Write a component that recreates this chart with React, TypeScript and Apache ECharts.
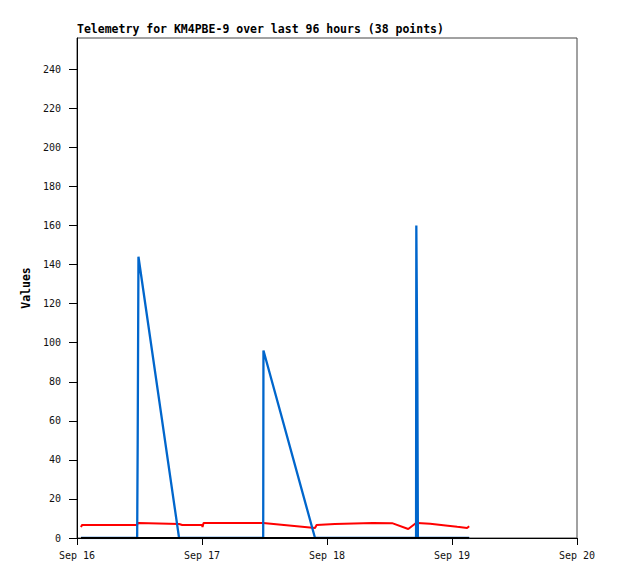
import React, { useEffect, useRef } from "react";
import * as echarts from "echarts";

// Time of each sample, hours since Sep 16 00:00
const hours = [
  0.77, 0.96, 11.55, 11.65, 11.8, 19.6, 20.2, 24.0, 24.1, 24.3, 35.75, 35.8, 45.7, 46.0,
  49.5, 56.8, 60.5, 63.6, 65.1, 65.15, 65.35, 65.45, 67.8, 71.2, 73.0, 74.9, 75.3,
];
const redValues = [
  5.6, 6.65, 6.65, 7.7, 7.7, 7.2, 6.65, 6.65, 5.6, 7.7, 7.7, 7.7, 5.1, 6.65,
  7.2, 7.7, 7.6, 4.6, 7.7, 7.7, 7.7, 7.7, 7.3, 6.3, 5.7, 5.1, 6.0,
];
const blueValues = [
  0, 0, 0, 48, 144, 0, 0, 0, 0, 0, 0, 96, 0, 0,
  0, 0, 0, 0, 0, 160, 80, 0, 0, 0, 0, 0, 0,
];
const blackValues = [
  0, 0, 0, 0, 0, 0, 0, 0, 0, 0, 0, 0, 0, 0,
  0, 0, 0, 0, 0, 0, 0, 0, 0, 0, 0, 0, 0,
];
const dayLabels = ["Sep 16", "Sep 17", "Sep 18", "Sep 19", "Sep 20"];
const yTicks = [0, 20, 40, 60, 80, 100, 120, 140, 160, 180, 200, 220, 240];
const titleText = "Telemetry for KM4PBE-9 over last 96 hours (38 points)";

const FONT = "DejaVu Sans Mono";

export default function App() {
  const ref = useRef<HTMLDivElement>(null);
  useEffect(() => {
    if (!ref.current) return;
    const chart = echarts.init(ref.current, null, { renderer: "svg" });
    const pairs = (vals: number[]) => hours.map((h, i) => [h, vals[i]]);
    chart.setOption({
      animation: false,
      backgroundColor: "#ffffff",
      title: {
        text: titleText,
        left: 77,
        top: 23,
        padding: 0,
        textStyle: { fontFamily: FONT, fontSize: 11.5, fontWeight: "bold", color: "#000" },
      },
      grid: {
        left: 77,
        top: 38,
        width: 500,
        height: 500,
        show: true,
        borderColor: "#444",
        borderWidth: 1,
        backgroundColor: "transparent",
      },
      xAxis: {
        type: "value",
        min: 0,
        max: 96,
        interval: 24,
        splitLine: { show: false },
        axisLine: { show: true, onZero: false, lineStyle: { color: "#000", width: 1 } },
        axisTick: { show: true, length: 7, lineStyle: { color: "#000" } },
        axisLabel: {
          margin: 12,
          fontFamily: FONT,
          fontSize: 10,
          color: "#111",
          formatter: (v: number) => dayLabels[Math.round(v / 24)] ?? "",
        },
      },
      yAxis: {
        type: "value",
        min: 0,
        max: 256,
        interval: 20,
        name: "Values",
        nameLocation: "middle",
        nameGap: 40,
        nameTextStyle: { fontFamily: FONT, fontSize: 11.5, fontWeight: "bold", color: "#000" },
        splitLine: { show: false },
        axisLine: { show: true, lineStyle: { color: "#000", width: 1 } },
        axisTick: { show: true, length: 8, customValues: yTicks, lineStyle: { color: "#000" } },
        axisLabel: {
          margin: 16,
          fontFamily: FONT,
          fontSize: 10,
          color: "#111",
          customValues: yTicks,
        },
      },
      series: [
        {
          type: "line",
          data: pairs(redValues),
          symbol: "none",
          lineStyle: { color: "#ff0000", width: 2 },
        },
        {
          type: "line",
          data: pairs(blueValues),
          symbol: "none",
          lineStyle: { color: "#0066cc", width: 2.3 },
        },
        {
          type: "line",
          data: pairs(blackValues),
          symbol: "none",
          lineStyle: { color: "#000000", width: 2 },
        },
      ],
    });
    return () => chart.dispose();
  }, []);
  return (
    <div
      ref={ref}
      style={{ position: "fixed", left: 0, top: 0, width: 618, height: 579, background: "#fff" }}
    />
  );
}
